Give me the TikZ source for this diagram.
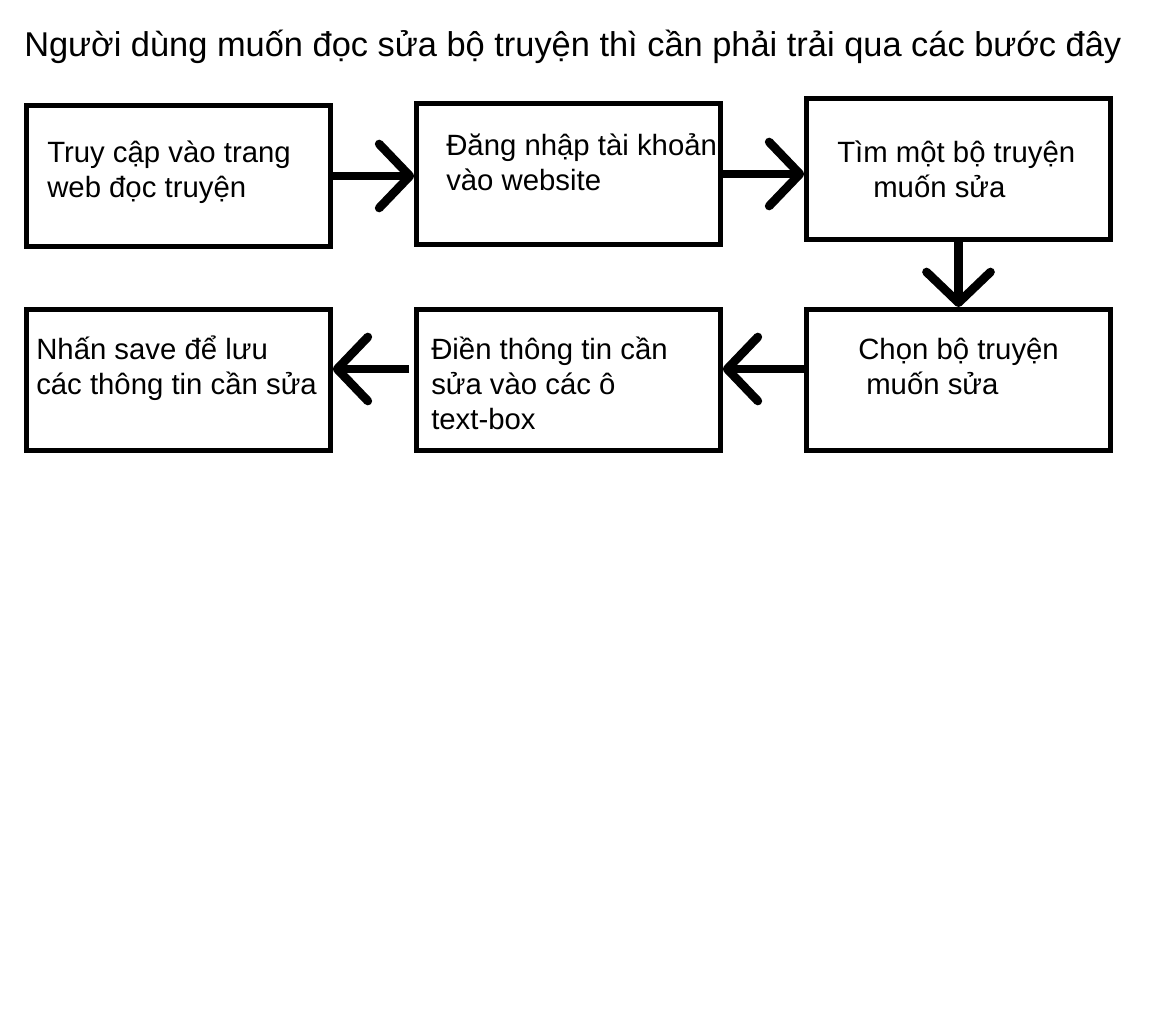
\documentclass[tikz,border=0pt]{standalone}
\usepackage{fontspec}
\setmainfont{Liberation Sans}
\usetikzlibrary{arrows.meta,calc}

\begin{document}
\begin{tikzpicture}[x=0.75pt,y=-0.75pt,
    box/.style={draw, line width=3.5pt, minimum width=228pt, minimum height=106pt, inner sep=0pt},
    txt/.style={anchor=base west, align=left, inner sep=0pt, font=\fontsize{22}{26.25}\selectfont},
    flow/.style={line width=6.5pt, -{Straight Barb[length=23pt,width=48pt,round]}}]
        \useasboundingbox (0,0) rectangle (1152,1024);

        \node[anchor=base west, inner sep=0pt, font=\fontsize{25.8}{30}\selectfont] (title) at (24,56)
            {Người dùng muốn đọc sửa bộ truyện thì cần phải trải qua các bước đây};

        % top row
        \node[box] (b1) at (178.5,176) {};
        \node[box] (b2) at (568.5,174) {};
        \node[box] (b3) at (958.5,169) {};
        % bottom row
        \node[box] (b4) at (958.5,380) {};
        \node[box] (b5) at (568.5,380) {};
        \node[box] (b6) at (178.5,380) {};

        % anchored on the baseline of the last line
        \node[txt] (t1) at (47,197) {Truy cập vào trang\\web đọc truyện};
        \node[txt] (t2) at (446,190) {Đăng nhập tài khoản\\vào website};
        \node[txt] (t3) at (837,197) {Tìm một bộ truyện\\\hspace*{27pt}muốn sửa};
        \node[txt] (t4) at (858,394) {Chọn bộ truyện\\\hspace*{6pt}muốn sửa};
        \node[txt] (t5) at (431,429) {Điền thông tin cần\\sửa vào các ô\\text-box};
        \node[txt] (t6) at (36,394) {Nhấn save để lưu\\các thông tin cần sửa};

        \draw[flow] (b1.east) -- (b1.east -| b2.west);
        \draw[flow] (b2.east) -- (b2.east -| b3.west);
        \draw[flow] (b3.south) -- (b4.north);

        \coordinate (m4) at ($(b4.west)+(0,-11)$);
        \coordinate (m5) at ($(b5.west)+(-5,-11)$);
        \draw[flow] (m4) -- (m4 -| b5.east);
        \draw[flow] (m5) -- (m5 -| b6.east);

    \end{tikzpicture}
\end{document}
